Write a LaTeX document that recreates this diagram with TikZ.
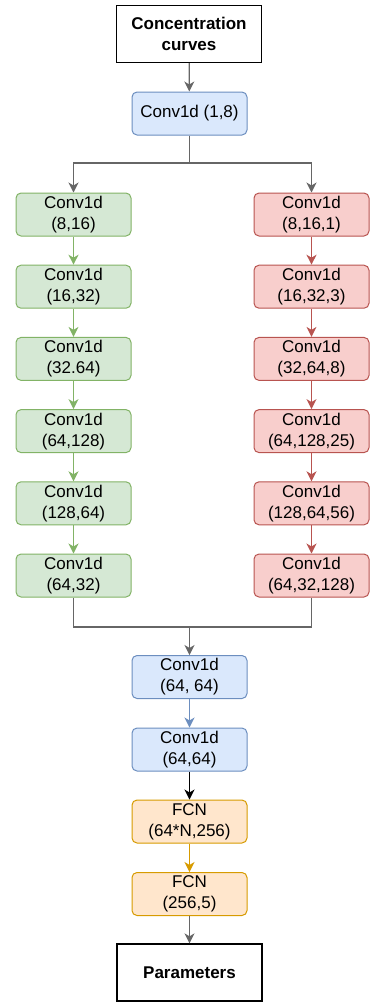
\documentclass[tikz,border=0pt]{standalone}
\usepackage{fontspec}
\setmainfont{Liberation Sans}
\usetikzlibrary{arrows.meta}

\definecolor{bluefill}{HTML}{DAE8FC}
\definecolor{blueline}{HTML}{6C8EBF}
\definecolor{greenfill}{HTML}{D5E8D4}
\definecolor{greenline}{HTML}{82B366}
\definecolor{redfill}{HTML}{F8CECC}
\definecolor{redline}{HTML}{B85450}
\definecolor{orangefill}{HTML}{FFE6CC}
\definecolor{orangeline}{HTML}{D79B00}
\definecolor{linkgray}{HTML}{666666}

\tikzset{
  txt/.style={font=\fontsize{17}{21}\selectfont, align=center},
  endbox/.style={txt, draw=black, line width=1.3pt, minimum width=145pt, minimum height=57pt, inner sep=0pt},
  layer/.style={txt, draw, rounded corners=5pt, line width=1pt, minimum width=115pt, minimum height=43pt, inner sep=0pt},
  bluebox/.style={layer, draw=blueline, fill=bluefill},
  greenbox/.style={layer, draw=greenline, fill=greenfill},
  redbox/.style={layer, draw=redline, fill=redfill},
  orangebox/.style={layer, draw=orangeline, fill=orangefill},
  link/.style={line width=1.3pt, -{Stealth[length=10pt,width=10pt,inset=3pt]}},
}

\begin{document}
\begin{tikzpicture}[x=1pt,y=-1pt]
        \useasboundingbox (0,0) rectangle (373,1002);
        \node[endbox] (curves) at (189,34) {\textbf{Concentration}\\\textbf{curves}};
        \node[bluebox] (conv0) at (189.5,113.5) {Conv1d (1,8)};

        \node[greenbox] (g1) at (73.5,214.5) {Conv1d\\(8,16)};
        \node[greenbox] (g2) at (73.5,286.7) {Conv1d\\(16,32)};
        \node[greenbox] (g3) at (73.5,358.9) {Conv1d\\(32.64)};
        \node[greenbox] (g4) at (73.5,431.1) {Conv1d\\(64,128)};
        \node[greenbox] (g5) at (73.5,503.3) {Conv1d\\(128,64)};
        \node[greenbox] (g6) at (73.5,575.5) {Conv1d\\(64,32)};

        \node[redbox] (r1) at (311.5,214.5) {Conv1d\\(8,16,1)};
        \node[redbox] (r2) at (311.5,286.7) {Conv1d\\(16,32,3)};
        \node[redbox] (r3) at (311.5,358.9) {Conv1d\\(32,64,8)};
        \node[redbox] (r4) at (311.5,431.1) {Conv1d\\(64,128,25)};
        \node[redbox] (r5) at (311.5,503.3) {Conv1d\\(128,64,56)};
        \node[redbox] (r6) at (311.5,575.5) {Conv1d\\(64,32,128)};

        \node[bluebox] (conv1) at (189.5,677) {Conv1d\\(64, 64)};
        \node[bluebox] (conv2) at (189.5,749.5) {Conv1d\\(64,64)};
        \node[orangebox] (fcn1) at (189.5,821.5) {FCN\\(64*N,256)};
        \node[orangebox] (fcn2) at (189.5,894) {FCN\\(256,5)};
        \node[endbox] (params) at (189.5,972.5) {\textbf{Parameters}};

        \coordinate (split) at (189.5,163);
        \coordinate (merge) at (189.5,627);

        \draw[link,linkgray] (curves) -- (conv0);
        \draw[link,linkgray] (conv0) -- (split) -| (g1);
        \draw[link,linkgray] (conv0) -- (split) -| (r1);
        \draw[link,greenline] (g1) -- (g2);
        \draw[link,greenline] (g2) -- (g3);
        \draw[link,greenline] (g3) -- (g4);
        \draw[link,greenline] (g4) -- (g5);
        \draw[link,greenline] (g5) -- (g6);
        \draw[link,redline] (r1) -- (r2);
        \draw[link,redline] (r2) -- (r3);
        \draw[link,redline] (r3) -- (r4);
        \draw[link,redline] (r4) -- (r5);
        \draw[link,redline] (r5) -- (r6);
        \draw[line width=1.3pt,linkgray] (g6) |- (merge) -| (r6);
        \draw[link,linkgray] (merge) -- (conv1);
        \draw[link,blueline] (conv1) -- (conv2);
        \draw[link,black] (conv2) -- (fcn1);
        \draw[link,orangeline] (fcn1) -- (fcn2);
        \draw[link,linkgray] (fcn2) -- (params);
      \end{tikzpicture}
\end{document}
